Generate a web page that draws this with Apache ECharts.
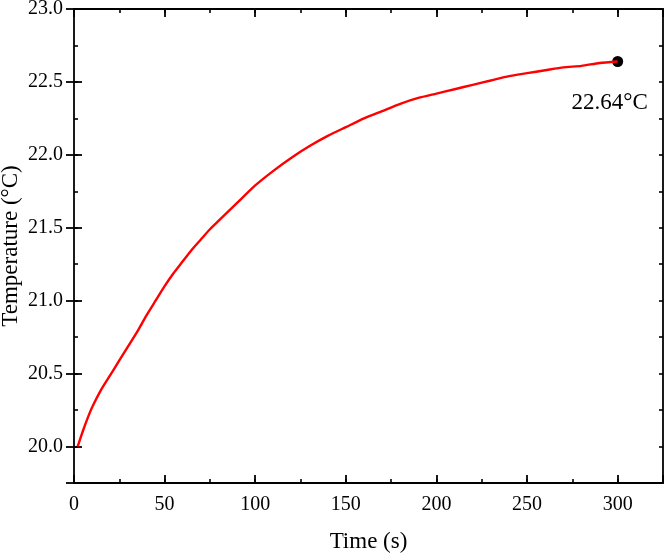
<!DOCTYPE html>
<html>
<head>
<meta charset="utf-8">
<script src="https://cdn.jsdelivr.net/npm/echarts@6/dist/echarts.min.js"></script>
<style>html,body{margin:0;padding:0;background:#fff}#c{width:665px;height:554px}</style>
</head>
<body>
<div id="c"></div>
<script>
var times = [2,5,8,10,15,20,25,30,35,40,45,50,55,60,65,70,75,80,90,100,110,120,130,140,150,160,170,180,190,200,210,220,230,240,250,260,270,280,290,300];
var temps = [20.00,20.11,20.21,20.27,20.39,20.49,20.59,20.69,20.79,20.90,21.00,21.10,21.19,21.27,21.35,21.42,21.49,21.55,21.67,21.79,21.89,21.98,22.06,22.13,22.19,22.25,22.30,22.35,22.39,22.42,22.45,22.48,22.51,22.54,22.56,22.58,22.60,22.61,22.63,22.64];
var endPoint = [300, 22.64];
var endLabel = '22.64\u00b0C';
var xTitle = 'Time (s)';
var yTitle = 'Temperature (\u00b0C)';

var font = 'Liberation Serif';
var lineData = times.map(function(t,i){return [t,temps[i]];});
var lineOn = {show:true, onZero:false, lineStyle:{color:'#000', width:1.8}};
var lineOff = {show:false};
var shortTick = {show:true, inside:true, length:4, lineStyle:{color:'#000', width:1.6}};
var longTick = {show:true, inside:true, length:8, lineStyle:{color:'#000', width:1.8}};
var noLabel = {show:false};
function xAx(pos, interval, tick, line, extra){
  var a = {type:'value', min:0, max:325, interval:interval, position:pos,
    axisLine:line, axisTick:tick, splitLine:{show:false}, axisLabel:noLabel};
  for (var k in extra) a[k]=extra[k];
  return a;
}
var yShort = function(pos, extra){
  var a = {type:'value', min:19.75, max:23.0, interval:0.25, position:pos,
    axisLine:lineOn, axisTick:shortTick, splitLine:{show:false}, axisLabel:noLabel};
  for (var k in extra) a[k]=extra[k];
  return a;
};
var yLong = function(pos){
  return {type:'value', min:-23.0, max:-19.75, interval:0.5, inverse:true, position:pos,
    axisLine:lineOff, axisTick:longTick, splitLine:{show:false}, axisLabel:noLabel};
};

var chart = echarts.init(document.getElementById('c'), null, {renderer:'canvas'});
chart.setOption({
  animation:false,
  backgroundColor:'#fff',
  grid:{left:74, right:2, top:9, bottom:71, containLabel:false, outerBoundsMode:'none'},
  xAxis:[
    xAx('bottom', 25, shortTick, lineOn, {
      name:xTitle, nameLocation:'middle', nameGap:47,
      nameTextStyle:{fontFamily:font, fontSize:23, color:'#000'},
      axisLabel:{show:true, fontFamily:font, fontSize:20, color:'#000', margin:12,
        formatter:function(v){return v%50===0 && v<=300 ? String(v) : '';}}
    }),
    xAx('bottom', 50, longTick, lineOff, {}),
    xAx('top', 25, shortTick, lineOn, {}),
    xAx('top', 50, longTick, lineOff, {})
  ],
  yAxis:[
    yShort('left', {
      name:yTitle, nameLocation:'middle', nameGap:52, nameMoveOverlap:false,
      nameTextStyle:{fontFamily:font, fontSize:23, color:'#000'},
      axisLabel:{show:true, fontFamily:font, fontSize:20, color:'#000', margin:11,
        formatter:function(v){var r=Math.round(v*100)/100; return (Math.abs(r*2-Math.round(r*2))<1e-6)? r.toFixed(1):'';}}
    }),
    yLong('left'),
    yShort('right', {}),
    yLong('right')
  ],
  series:[{
    type:'line', data:lineData, showSymbol:false, smooth:0.2,
    lineStyle:{color:'#ff0000', width:2.4}, xAxisIndex:0, yAxisIndex:0
  },{
    type:'scatter', data:[endPoint], symbolSize:11,
    itemStyle:{color:'#000', opacity:1}, xAxisIndex:0, yAxisIndex:0,
    label:{show:true, position:'bottom', offset:[-8,19], formatter:endLabel,
      fontFamily:font, fontSize:23, color:'#000'}
  }]
});
</script>
</body>
</html>
